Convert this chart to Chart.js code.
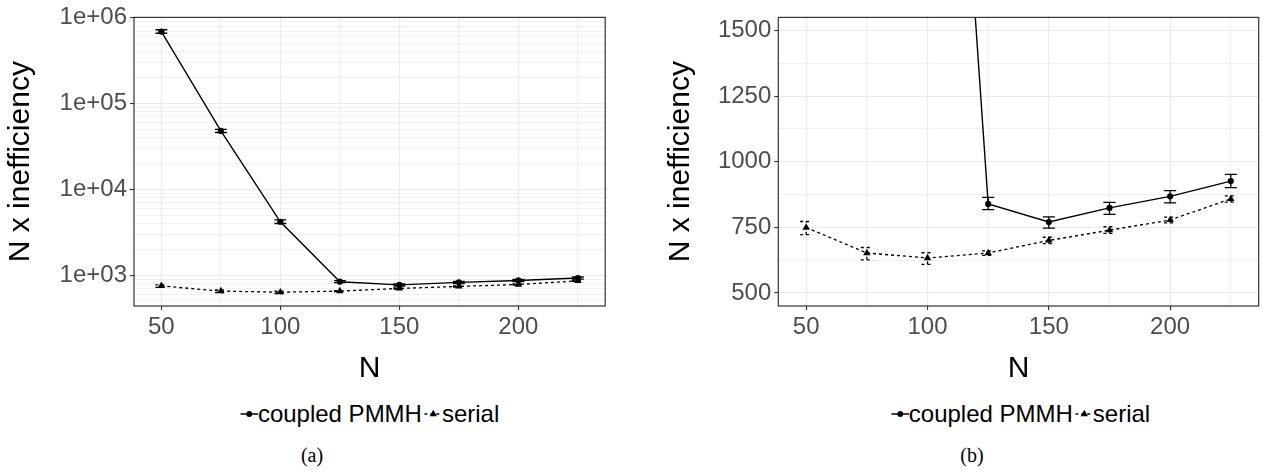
<!DOCTYPE html>
<html lang="en">
<head>
<meta charset="UTF-8">
<title>N x inefficiency</title>
<script src="https://cdn.jsdelivr.net/npm/chart.js"></script>
<style>
  body { margin: 0; background: #fff; width: 1263px; height: 472px; overflow: hidden; position: relative;
         font-family: "Liberation Sans", Arial, sans-serif; }
  .panel { position: absolute; top: 0; }
  .legend { position: absolute; top: 400px; height: 28px; display: flex; align-items: center;
            font-size: 24px; color: #000; white-space: nowrap; transform: translateX(-50%); }
  .legend svg { display: block; }
  .legend .k2 { margin-left: 2px; }
  .caption { position: absolute; top: 444px; font-family: "Liberation Serif", serif; font-size: 20px;
             transform: translateX(-50%); }
</style>
</head>
<body>
<canvas id="left" class="panel" width="630" height="390" style="left:0px"></canvas>
<canvas id="right" class="panel" width="623" height="390" style="left:640px"></canvas>

<div class="legend" style="left:369.6px">
  <svg width="18" height="18"><line x1="0" y1="9" x2="18" y2="9" stroke="#000" stroke-width="1.4"/><circle cx="9" cy="9" r="2.9" fill="#000"/></svg>
  <span>coupled PMMH</span>
  <svg class="k2" width="18" height="18"><line x1="0" y1="9" x2="18" y2="9" stroke="#000" stroke-width="1.3" stroke-dasharray="3,3"/><polygon points="9,4.8 12.7,11.2 5.3,11.2" fill="#000"/></svg>
  <span>serial</span>
</div>
<div class="legend" style="left:1020.5px">
  <svg width="18" height="18"><line x1="0" y1="9" x2="18" y2="9" stroke="#000" stroke-width="1.4"/><circle cx="9" cy="9" r="2.9" fill="#000"/></svg>
  <span>coupled PMMH</span>
  <svg class="k2" width="18" height="18"><line x1="0" y1="9" x2="18" y2="9" stroke="#000" stroke-width="1.3" stroke-dasharray="3,3"/><polygon points="9,4.8 12.7,11.2 5.3,11.2" fill="#000"/></svg>
  <span>serial</span>
</div>
<div class="caption" style="left:312px">(a)</div>
<div class="caption" style="left:972px">(b)</div>

<script>
// data
const N = [50, 75, 100, 125, 150, 175, 200, 225];
const coupled   = [690000, 48000, 4190, 839, 770, 824, 868, 926];
const coupledLo = [660000, 46000, 4000, 817, 747, 799, 843, 901];
const coupledHi = [725000, 50000, 4400, 864, 790, 845, 890, 952];
const serial    = [749, 652, 633, 652, 700, 739, 778, 858];
const serialLo  = [722, 626, 609, 643, 688, 727, 767, 846];
const serialHi  = [772, 673, 653, 660, 712, 752, 789, 870];

const xTicks = [50, 75, 100, 125, 150, 175, 200, 225];
const xLabels = [50, 100, 150, 200];
const logDecades = [1e3, 1e4, 1e5, 1e6];
const linTicks = [500, 625, 750, 875, 1000, 1125, 1250, 1375, 1500];
const linLabels = [500, 750, 1000, 1250, 1500];

const FONT = '"Liberation Sans", Arial, sans-serif';
const GRID = '#ebebeb';
const ERR_HALF = 2.5; // errorbar cap half width, in N units

// errorbars drawn from errLo / errHi through the chart scales
const errorBars = {
  id: 'errorBars',
  beforeDatasetsDraw(chart) {
    const {ctx, chartArea, scales: {x, y}} = chart;
    ctx.save();
    ctx.beginPath();
    ctx.rect(chartArea.left, chartArea.top, chartArea.right - chartArea.left, chartArea.bottom - chartArea.top);
    ctx.clip();
    chart.data.datasets.forEach(ds => {
      ctx.strokeStyle = '#000';
      ctx.lineWidth = 1.3;
      ctx.setLineDash(ds.borderDash || []);
      ds.data.forEach((p, i) => {
        const px = x.getPixelForValue(p.x);
        const x0 = x.getPixelForValue(p.x - ERR_HALF);
        const x1 = x.getPixelForValue(p.x + ERR_HALF);
        const yl = y.getPixelForValue(ds.errLo[i]);
        const yh = y.getPixelForValue(ds.errHi[i]);
        ctx.beginPath();
        ctx.moveTo(px, yl); ctx.lineTo(px, yh);
        ctx.moveTo(x0, yl); ctx.lineTo(x1, yl);
        ctx.moveTo(x0, yh); ctx.lineTo(x1, yh);
        ctx.stroke();
      });
    });
    ctx.restore();
  }
};

// panel border like theme_bw
const panelBorder = {
  id: 'panelBorder',
  afterDraw(chart) {
    const {ctx, chartArea: a} = chart;
    ctx.save();
    ctx.strokeStyle = '#333333';
    ctx.lineWidth = 1.2;
    ctx.strokeRect(a.left, a.top, a.right - a.left, a.bottom - a.top);
    ctx.restore();
  }
};

function pts(ys) { return N.map((n, i) => ({x: n, y: ys[i]})); }

function makePanel(id, cfg) {
  const datasets = [
    { label: 'coupled PMMH', data: pts(coupled), errLo: coupledLo, errHi: coupledHi,
      borderColor: '#000', backgroundColor: '#000', borderWidth: 1.4,
      pointStyle: 'circle', pointRadius: 3.1, pointBorderWidth: 0, clip: 0 },
    { label: 'serial', data: pts(serial), errLo: serialLo, errHi: serialHi,
      borderColor: '#000', backgroundColor: '#000', borderWidth: 1.3, borderDash: [3, 3],
      pointStyle: 'triangle', pointRadius: 4.3, pointBorderWidth: 0, clip: 0 }
  ];
  new Chart(document.getElementById(id), {
    type: 'line',
    data: { datasets },
    options: {
      responsive: false,
      animation: false,
      layout: { padding: { top: 10, left: 0, right: cfg.padRight, bottom: 0 } },
      plugins: { legend: { display: false }, tooltip: { enabled: false } },
      scales: {
        x: {
          type: 'linear', min: 38.5, max: 236.5,
          afterBuildTicks: s => { s.ticks = xTicks.map(v => ({value: v})); },
          afterFit: s => { s.height = 84; },
          ticks: { autoSkip: false, maxRotation: 0, padding: 3, color: '#4d4d4d',
                   font: { family: FONT, size: 24 },
                   callback: v => xLabels.includes(v) ? String(v) : '' },
          grid: { color: GRID, lineWidth: c => xLabels.includes(c.tick && c.tick.value) ? 1.1 : 0.7,
                  tickLength: 4, tickWidth: 1.1,
                  tickColor: c => xLabels.includes(c.tick && c.tick.value) ? '#333333' : 'rgba(0,0,0,0)' },
          border: { display: false },
          title: { display: true, text: 'N', color: '#000', font: { family: FONT, size: 30 },
                   padding: { top: 0, bottom: 3.5 } }
        },
        y: Object.assign({
          afterFit: s => { s.width = cfg.yWidth; },
          border: { display: false },
          title: { display: true, text: 'N x inefficiency', color: '#000', font: { family: FONT, size: 30 },
                   padding: { top: cfg.titlePad, bottom: 0 } }
        }, cfg.y)
      }
    },
    plugins: [errorBars, panelBorder]
  });
}

// (a) log scale
const logTicks = [];
for (let e = 2; e <= 6; e++) for (let k = 1; k <= 9; k++) {
  const v = k * Math.pow(10, e);
  if (v >= 437 && v <= 1.01e6) logTicks.push(v);
}
const isDecade = v => logDecades.some(d => Math.abs(d - v) < 1e-6 * d);

makePanel('left', {
  padRight: 24.8, yWidth: 134, titlePad: 3,
  y: {
    type: 'logarithmic', min: 437, max: 1.01e6,
    afterBuildTicks: s => { s.ticks = logTicks.map(v => ({value: v})); },
    ticks: { autoSkip: false, padding: 3, color: '#4d4d4d', font: { family: FONT, size: 24 },
             callback: v => isDecade(v) ? '1e+' + String(Math.round(Math.log10(v))).padStart(2, '0') : '' },
    grid: { color: GRID, lineWidth: c => isDecade(c.tick && c.tick.value) ? 1.1 : 0.7,
            tickLength: 4, tickWidth: 1.1,
            tickColor: c => isDecade(c.tick && c.tick.value) ? '#333333' : 'rgba(0,0,0,0)' }
  }
});

// (b) linear scale, zoomed
makePanel('right', {
  padRight: 1, yWidth: 138.3, titlePad: 23,
  y: {
    type: 'linear', min: 450, max: 1550,
    afterBuildTicks: s => { s.ticks = linTicks.map(v => ({value: v})); },
    ticks: { autoSkip: false, padding: 3, color: '#4d4d4d', font: { family: FONT, size: 24 },
             callback: v => linLabels.includes(v) ? String(v) : '' },
    grid: { color: GRID, lineWidth: c => linLabels.includes(c.tick && c.tick.value) ? 1.1 : 0.7,
            tickLength: 4, tickWidth: 1.1,
            tickColor: c => linLabels.includes(c.tick && c.tick.value) ? '#333333' : 'rgba(0,0,0,0)' }
  }
});
</script>
</body>
</html>
